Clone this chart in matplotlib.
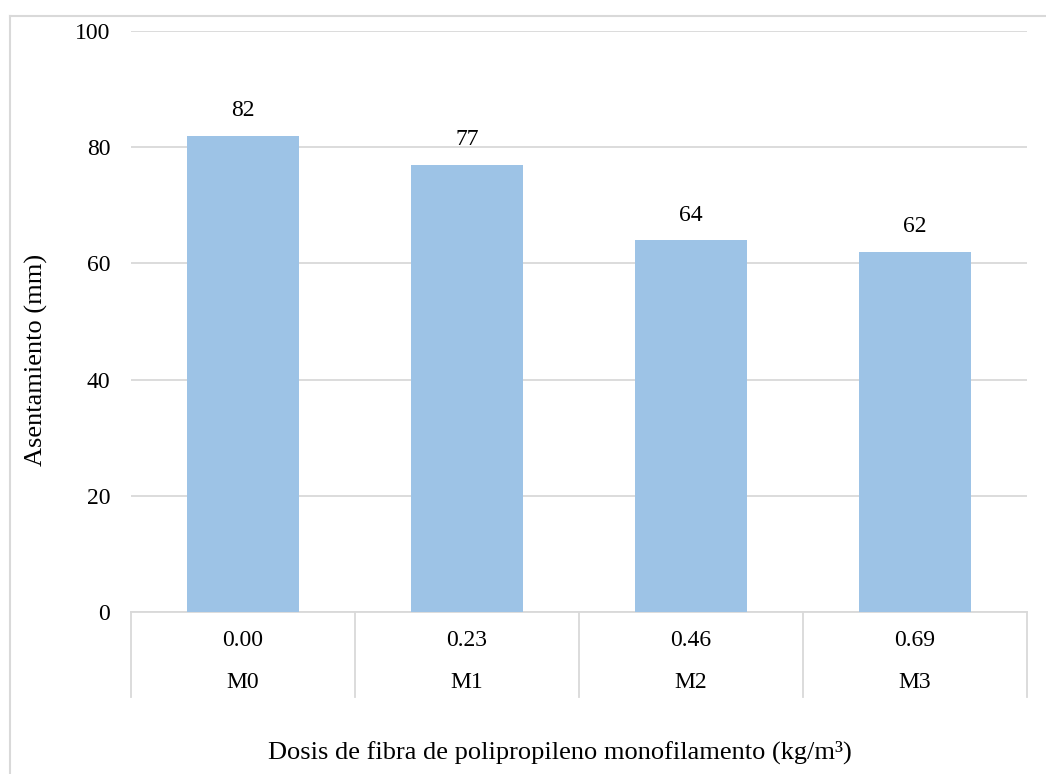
import matplotlib
matplotlib.use("Agg")
import matplotlib.pyplot as plt
from matplotlib.lines import Line2D
import matplotlib.transforms as mtransforms

plt.rcParams['font.family'] = ['Liberation Serif', 'DejaVu Serif']
plt.rcParams['font.size'] = 17

# Asentamiento por dosis de fibra
dosis = ['0.00', '0.23', '0.46', '0.69']
mezclas = ['M0', 'M1', 'M2', 'M3']
asentamiento = [82, 77, 64, 62]

W, H = 1046, 774
fig = plt.figure(figsize=(W / 100, H / 100), dpi=100)
ax = fig.add_axes([131 / W, 1 - 612 / H, (1027 - 131) / W, (612 - 31) / H])

grid_col = '#D9D9D9'
bar_col = '#9DC3E6'

x = range(len(asentamiento))
bars = ax.bar(x, asentamiento, width=0.5, color=bar_col, zorder=3)
for b, v in zip(bars, asentamiento):
    ax.annotate(str(v), (b.get_x() + b.get_width() / 2, v),
                xytext=(0, 18), textcoords='offset points',
                ha='center', va='center')

ax.set_xlim(-0.5, len(asentamiento) - 0.5)
ax.set_ylim(0, 100)
ax.set_yticks(range(0, 101, 20))
ax.yaxis.grid(True, color=grid_col, linewidth=1.3, zorder=0)
ax.tick_params(axis='y', length=0, pad=15)
ax.set_xticks([])
for s in ['top', 'right', 'left']:
    ax.spines[s].set_visible(False)
ax.spines['bottom'].set_color(grid_col)
ax.spines['bottom'].set_linewidth(1.3)

# two-level category axis
trans = mtransforms.blended_transform_factory(ax.transData, ax.transAxes)
sep_bottom = -(697 - 612) / (612 - 31)
for i in range(len(asentamiento) + 1):
    ax.add_line(Line2D([i - 0.5, i - 0.5], [0, sep_bottom], transform=trans,
                       color=grid_col, linewidth=1.3, clip_on=False))
for i, (d, m) in enumerate(zip(dosis, mezclas)):
    ax.text(i, -29 / 581, d, transform=trans, ha='center', va='center')
    ax.text(i, -71 / 581, m, transform=trans, ha='center', va='center')

fig.text(560 / W, 1 - 752 / H, 'Dosis de fibra de polipropileno monofilamento (kg/m³)',
         ha='center', va='center', fontsize=19)
fig.text(36 / W, 1 - 466 / H, 'Asentamiento (mm)', rotation=90,
         ha='center', va='bottom', fontsize=19)

# chart frame
fig.add_artist(Line2D([10 / W, 10 / W], [0, 1 - 16 / H], transform=fig.transFigure,
                      color=grid_col, linewidth=1.5))
fig.add_artist(Line2D([10 / W, 1], [1 - 16 / H, 1 - 16 / H], transform=fig.transFigure,
                      color=grid_col, linewidth=1.5))

fig.savefig('out.png', dpi=100)
